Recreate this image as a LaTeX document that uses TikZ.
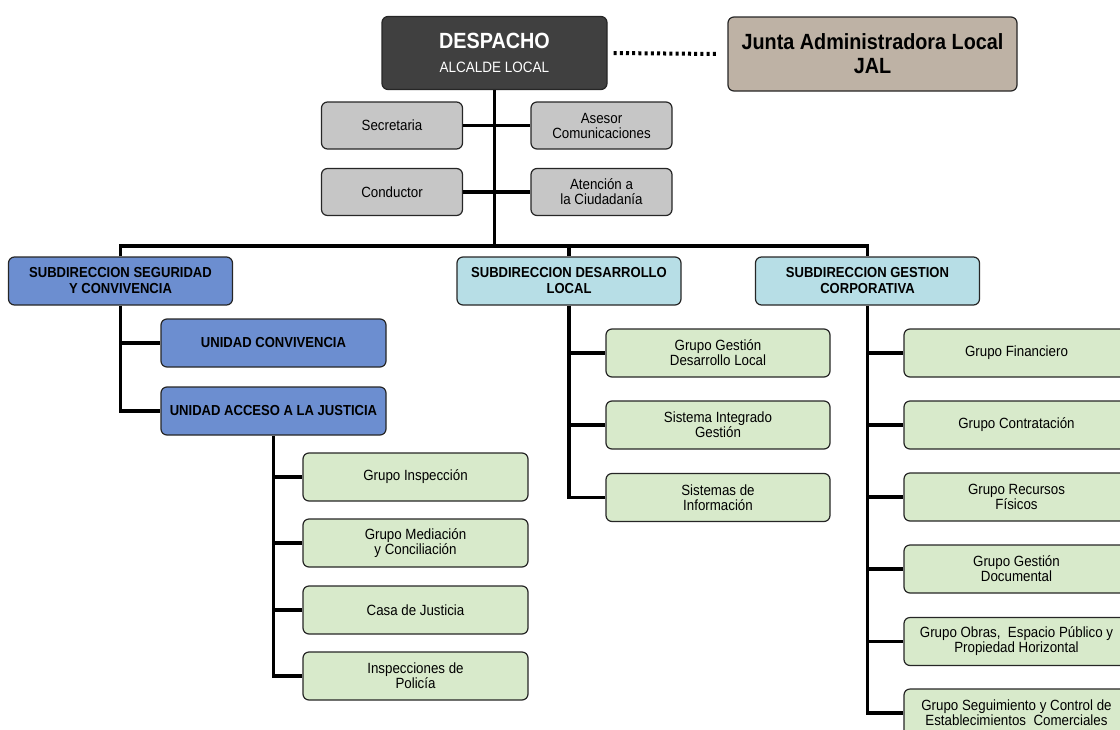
\documentclass[tikz,border=0pt]{standalone}
\usepackage{fontspec}
\setmainfont[FakeStretch=0.9]{Liberation Sans}
\usetikzlibrary{positioning}
\definecolor{oscuro}{HTML}{404040}
\definecolor{beige}{HTML}{BEB2A5}
\definecolor{grisc}{HTML}{C6C6C6}
\definecolor{azul}{HTML}{6C8ED0}
\definecolor{celeste}{HTML}{B7DEE6}
\definecolor{verde}{HTML}{D8EACB}

\begin{document}
\begin{tikzpicture}[x=1pt, y=-1pt,
    caja/.style={draw=black!85, line width=1.2pt, rounded corners=6pt, align=center, inner sep=0pt},
    gris/.style={caja, fill=grisc, minimum width=141pt, minimum height=47pt, font=\fontsize{14.8}{15}\selectfont},
    subdir/.style={caja, minimum width=224pt, minimum height=48pt, font=\bfseries\fontsize{14.5}{16}\selectfont},
    grupo/.style={caja, fill=verde, minimum width=225pt, minimum height=48pt, font=\fontsize{14.8}{15}\selectfont},
    linea/.style={line width=3.5pt}]
    \useasboundingbox (0,0) rectangle (1120,729);
    \clip (0,0) rectangle (1120,729);

    % Vertice
    \node[caja, fill=oscuro, text=white, minimum width=225pt, minimum height=73pt,
          font=\bfseries\fontsize{22}{24}\selectfont] (despacho) at (494.5,53)
        {DESPACHO\\{\mdseries\fontsize{15}{24}\selectfont ALCALDE LOCAL}};
    \node[caja, fill=beige, minimum width=289pt, minimum height=74pt, font=\bfseries\fontsize{22}{24}\selectfont] (jal) at (872.5,54)
        {Junta Administradora Local\\JAL};

    % Apoyo
    \node[gris] (secre) at (392,125.5) {Secretaria};
    \node[gris] (aseso) at (601.5,125.5) {Asesor\\Comunicaciones};
    \node[gris] (conduc) at (392,192) {Conductor};
    \node[gris] (atenc) at (601.5,192) {Atención a\\la Ciudadanía};

    % Subdirecciones
    \coordinate (bus) at (494.5,246);
    \node[subdir, fill=azul] (sseg) at (120.5,281) {SUBDIRECCION SEGURIDAD\\Y CONVIVENCIA};
    \node[subdir, fill=celeste] (sdes) at (569,281) {SUBDIRECCION DESARROLLO\\LOCAL};
    \node[subdir, fill=celeste] (sges) at (867.5,281) {SUBDIRECCION GESTION\\CORPORATIVA};

    % Unidades
    \node[subdir, fill=azul, minimum width=225pt] (ucon) at (273.5,343) {UNIDAD CONVIVENCIA};
    \node[subdir, fill=azul, minimum width=225pt] (uacc) at (273.5,411) {UNIDAD ACCESO A LA JUSTICIA};

    % Grupos
    \node[grupo] (ginsp) at (415.5,477) {Grupo Inspección};
    \node[grupo] (gmed) at (415.5,543) {Grupo Mediación\\y Conciliación};
    \node[grupo] (gcasa) at (415.5,610) {Casa de Justicia};
    \node[grupo] (gpol) at (415.5,676) {Inspecciones de\\Policía};

    \node[grupo, minimum width=224pt] (gdes) at (718,353) {Grupo Gestión\\Desarrollo Local};
    \node[grupo, minimum width=224pt] (gsig) at (718,425) {Sistema Integrado\\Gestión};
    \node[grupo, minimum width=224pt] (ginf) at (718,497.5) {Sistemas de\\Información};

    \node[grupo] (gfin) at (1016.5,353) {Grupo Financiero};
    \node[grupo] (gcon) at (1016.5,425) {Grupo Contratación};
    \node[grupo] (grec) at (1016.5,497) {Grupo Recursos\\Físicos};
    \node[grupo] (gdoc) at (1016.5,569) {Grupo Gestión\\Documental};
    \node[grupo] (gobr) at (1016.5,641.5) {Grupo Obras,\ \ Espacio Público y\\Propiedad Horizontal};
    \node[grupo] (gseg) at (1016.5,713) {Grupo Seguimiento y Control de\\Establecimientos\ \ Comerciales};

    % Conexiones
    \draw[line width=4pt, dash pattern=on 3pt off 3.2pt] ([xshift=6pt]despacho.east) -- ([xshift=-11pt]jal.west);
    \draw[linea] (despacho.south) -- (despacho.south |- bus);
    \draw[linea] (secre.east) -- (aseso.west);
    \draw[linea] (conduc.east) -- (atenc.west);
    \draw[linea] (sseg.north) -- (sseg.north |- bus) -- (sges.north |- bus) -- (sges.north);
    \draw[linea] (sdes.north |- bus) -- (sdes.north);

    \draw[linea] (sseg.south) |- (uacc.west);
    \draw[linea] (sseg.south |- ucon.west) -- (ucon.west);

    \draw[linea] (uacc.south) |- (gpol.west);
    \foreach \g in {ginsp, gmed, gcasa}
        \draw[linea] (uacc.south |- \g.west) -- (\g.west);

    \draw[linea] (sdes.south) |- (ginf.west);
    \foreach \g in {gdes, gsig}
        \draw[linea] (sdes.south |- \g.west) -- (\g.west);

    \draw[linea] (sges.south) |- (gseg.west);
    \foreach \g in {gfin, gcon, grec, gdoc, gobr}
        \draw[linea] (sges.south |- \g.west) -- (\g.west);
\end{tikzpicture}
\end{document}
